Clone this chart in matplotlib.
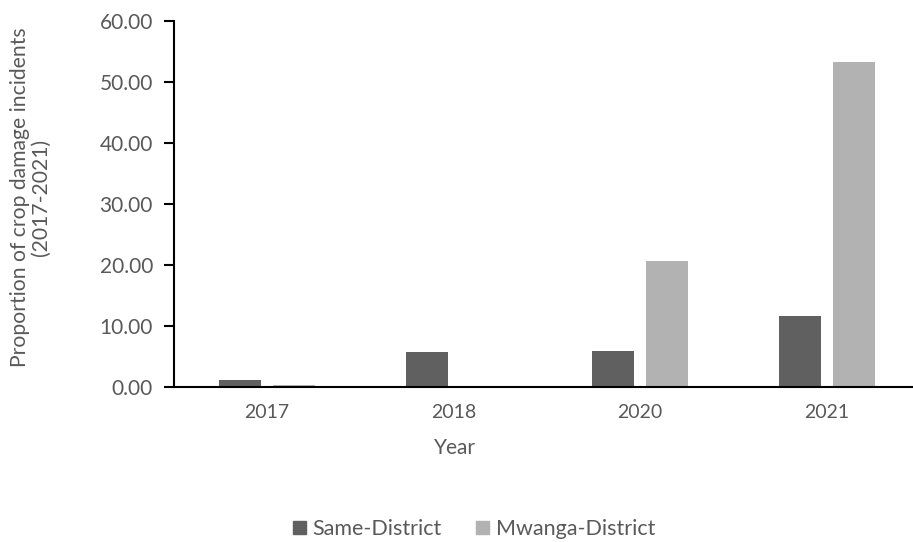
import numpy as np
import matplotlib
matplotlib.use("Agg")
import matplotlib.pyplot as plt
from matplotlib.patches import Patch

years = ["2017", "2018", "2020", "2021"]
same_district = [1.25, 5.70, 6.00, 11.70]
mwanga_district = [0.45, 0.20, 20.70, 53.20]

TXT = "#595959"
C_SAME = "#606060"
C_MWANGA = "#b2b2b2"

plt.rcParams["font.family"] = ["Lato", "DejaVu Sans"]

fig = plt.figure(figsize=(9.13, 5.42), dpi=100)
ax = fig.add_axes([173.75 / 913, 1 - 387.3 / 542, (920 - 173.75) / 913, (387.3 - 20.7) / 542])

x = np.arange(len(years))
w = 0.225
off = 0.145
ax.bar(x - off, same_district, w, color=C_SAME, label="Same-District")
ax.bar(x + off, mwanga_district, w, color=C_MWANGA, label="Mwanga-District")

ax.set_xlim(-0.5, 3.5)
ax.set_ylim(0, 60)
ax.set_yticks(np.arange(0, 61, 10))
ax.set_yticklabels([f"{v:.2f}" for v in np.arange(0, 61, 10)])
ax.set_xticks(x)
ax.set_xticklabels(years)

for s in ("top", "right"):
    ax.spines[s].set_visible(False)
for s in ("left", "bottom"):
    ax.spines[s].set_color("black")
    ax.spines[s].set_linewidth(1.5)

ax.tick_params(axis="y", length=7, width=1.5, color="black", labelsize=15, labelcolor=TXT, pad=8)
ax.tick_params(axis="x", length=0, labelsize=14, labelcolor=TXT, pad=12)

# axis titles
fig.text(455 / 913, 1 - 448 / 542, "Year", ha="center", va="center", fontsize=15, color=TXT)
fig.text(30 / 913, 1 - 197 / 542, "Proportion of crop damage incidents\n(2017-2021)",
         rotation=90, ha="center", va="center", fontsize=15.2, color=TXT, linespacing=1.05)

handles = [Patch(color=C_SAME, label="Same-District"), Patch(color=C_MWANGA, label="Mwanga-District")]
fig.legend(handles=handles, loc="center", bbox_to_anchor=(474 / 913, 1 - 529 / 542),
           ncol=2, frameon=False, fontsize=15.5, labelcolor=TXT,
           handlelength=0.6, handleheight=0.6, handletextpad=0.3, columnspacing=1.6)

fig.savefig("out.png", dpi=100)
